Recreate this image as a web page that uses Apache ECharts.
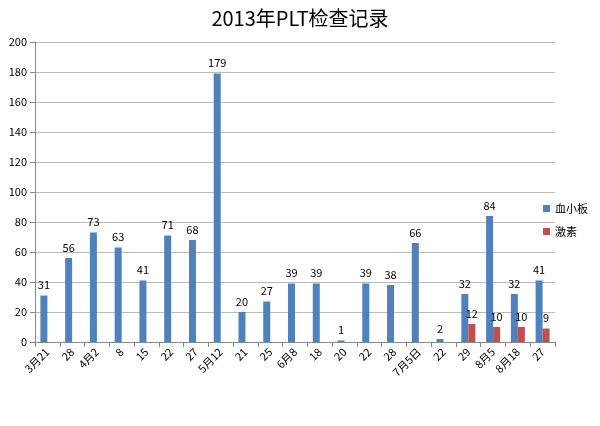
<!DOCTYPE html>
<html>
<head>
<meta charset="utf-8">
<script src="https://cdn.jsdelivr.net/npm/echarts@6/dist/echarts.min.js"></script>
<style>html,body{margin:0;padding:0;background:#fff}#c{width:600px;height:426px}</style>
</head>
<body>
<div id="c"></div>
<script>
// 日期
var dates = ['3月21','28','4月2','8','15','22','27','5月12','21','25','6月8','18','20','22','28','7月5日','22','29','8月5','8月18','27'];
var plt = [31,56,73,63,41,71,68,179,20,27,39,39,1,39,38,66,2,32,84,32,41];
var jisu = [null,null,null,null,null,null,null,null,null,null,null,null,null,null,null,null,null,12,10,10,9];

var chart = echarts.init(document.getElementById('c'));
var font = '"Noto Sans CJK SC", sans-serif';
chart.setOption({
    animation: false,
    textStyle: {fontFamily: font},
    title: {text: '2013年PLT检查记录', left: 295, top: 3, textAlign: 'center',
        textStyle: {fontSize: 20, fontWeight: 'normal', color: '#000', fontFamily: font}},
    legend: {orient: 'vertical', left: 538, top: 198, itemWidth: 7, itemHeight: 7, itemGap: 12, icon: 'rect',
        textStyle: {fontSize: 11, color: '#000'}, data: ['血小板','激素']},
    grid: {left: 35, right: 45, top: 42, bottom: 84},
    xAxis: {type: 'category', data: dates,
        axisLine: {lineStyle: {color: '#888'}},
        axisTick: {show: true, alignWithLabel: false, lineStyle: {color: '#888'}},
        axisLabel: {rotate: 45, interval: 0, color: '#000', fontSize: 11}},
    yAxis: {type: 'value', min: 0, max: 200, interval: 20,
        axisLine: {show: true, lineStyle: {color: '#888'}},
        axisTick: {show: true, lineStyle: {color: '#888'}},
        axisLabel: {color: '#000', fontSize: 11},
        splitLine: {lineStyle: {color: '#bbb'}}},
    series: [
        {name: '血小板', type: 'bar', data: plt, barWidth: 7, barGap: '0%', itemStyle: {color: '#4f81bd'},
            label: {show: true, position: 'top', color: '#000', fontSize: 11}},
        {name: '激素', type: 'bar', data: jisu, barWidth: 7, itemStyle: {color: '#c0504d'},
            label: {show: true, position: 'top', color: '#000', fontSize: 11}}
    ]
});
</script>
</body>
</html>
